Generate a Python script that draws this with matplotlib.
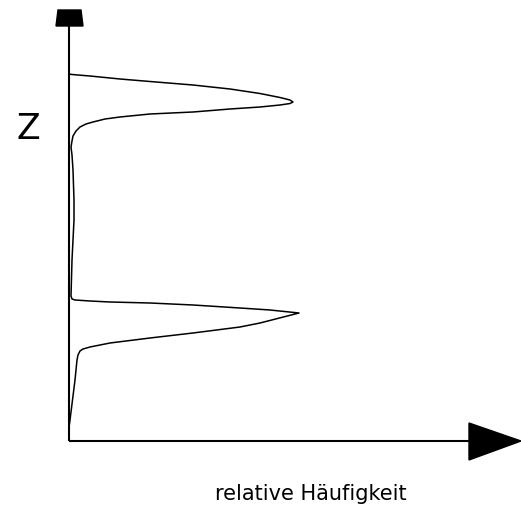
import matplotlib
matplotlib.use("Agg")
import matplotlib.pyplot as plt
from matplotlib.patches import Polygon

# relative frequency (x) against Z (y)
freq = [0.5, 6, 8, 9, 11, 14, 21, 41, 81, 124,
        171, 191, 230, 201, 171, 124, 81, 41, 21, 6,
        3, 2, 3, 5, 5, 4, 3, 2, 3, 4,
        7, 11, 17, 24, 36, 51, 81, 124, 161, 191,
        211, 221, 224, 221, 211, 191, 161, 124, 81, 51,
        21, 3, 0]
z = [17, 61, 81, 86, 90, 92, 94, 98, 103, 108,
     114, 118, 128, 131, 133, 136, 138, 139, 140, 141,
     142, 145, 181, 221, 241, 271, 286, 294, 300, 305,
     310, 314, 317, 319, 322, 324, 327, 329, 332, 334,
     336, 337.5, 339, 341, 343.5, 347.5, 352, 356, 359.5, 362,
     365, 366.5, 367]

x_label = "relative Häufigkeit"
y_label = "Z"

fig = plt.figure(figsize=(5.21, 5.13), dpi=100)
ax = fig.add_axes([0, 0, 1, 1])
ax.set_xlim(-69, 452)
ax.set_ylim(-72, 441)
ax.axis("off")

# axes with arrow heads
ax.plot([0, 0], [0, 416], color="black", lw=1.5, solid_capstyle="butt")
ax.plot([0, 402], [0, 0], color="black", lw=1.5, solid_capstyle="butt")
ax.add_patch(Polygon([[-13, 415], [14, 415], [12, 431], [-11, 431]],
                     closed=True, color="black"))
ax.add_patch(Polygon([[400, 18], [400, -19], [452, 0]], closed=True, color="black"))

ax.plot(freq, z, color="black", lw=1.1, solid_joinstyle="round")

ax.text(-40.5, 302, y_label, fontsize=25, ha="center", va="baseline")
ax.text(241.5, -59, x_label, fontsize=15, ha="center", va="baseline")

fig.savefig("out.png", dpi=100)
